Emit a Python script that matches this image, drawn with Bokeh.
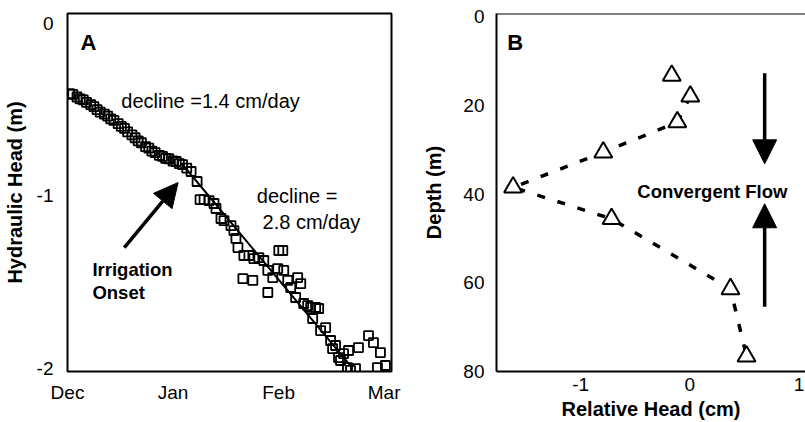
from bokeh.plotting import figure
from bokeh.layouts import row
from bokeh.models import Range1d, FixedTicker, Label, Arrow, NormalHead, Span
from bokeh.embed import file_html
from bokeh.resources import INLINE

FONT = "Liberation Sans"

# ---------------- Panel A data ----------------
month_ticks = [0, 1, 2, 3]
month_labels = ["Dec", "Jan", "Feb", "Mar"]
head_ticks = [0, -1, -2]
head_labels = ["0", "-1", "-2"]

# hydraulic head before irrigation onset (x in months since Dec 1, y in m)
pre_x = [0.02, 0.05, 0.09, 0.12, 0.15, 0.18, 0.22, 0.25, 0.28, 0.31, 0.35, 0.38,
         0.41, 0.44, 0.48, 0.51, 0.54, 0.57, 0.61, 0.64, 0.67, 0.70, 0.74, 0.77,
         0.80, 0.83, 0.87, 0.90, 0.93, 0.96, 1.00, 1.03, 1.06, 1.09, 1.13]
pre_y = [-0.405, -0.410, -0.425, -0.436, -0.442, -0.456, -0.470, -0.481, -0.498, -0.513, -0.525, -0.536,
         -0.552, -0.561, -0.580, -0.596, -0.608, -0.628, -0.645, -0.662, -0.680, -0.691, -0.714, -0.722,
         -0.740, -0.748, -0.764, -0.770, -0.782, -0.784, -0.797, -0.800, -0.812, -0.818, -0.838]

# hydraulic head after irrigation onset
post_x = [1.171, 1.228, 1.256, 1.294, 1.341, 1.388, 1.407, 1.454, 1.483, 1.549, 1.577, 1.596,
          1.615, 1.671, 1.719, 1.766, 1.813, 1.860, 1.898, 1.945, 2.002, 2.040, 1.662, 1.756,
          1.898, 1.992, 2.049, 2.087, 2.115, 2.162, 2.181, 2.210, 2.238, 2.276, 2.304, 2.351,
          2.380, 2.323, 2.398, 2.446, 2.493, 2.512, 2.540, 2.568, 2.587, 2.616, 2.663, 2.653,
          2.682, 2.729, 2.757, 2.852, 2.899, 2.965, 2.937, 3.012]
post_y = [-0.858, -0.916, -1.021, -1.021, -1.027, -1.044, -1.073, -1.131, -1.143, -1.172, -1.201, -1.247,
          -1.300, -1.346, -1.346, -1.364, -1.358, -1.375, -1.433, -1.474, -1.317, -1.317, -1.480, -1.491,
          -1.561, -1.422, -1.433, -1.491, -1.532, -1.590, -1.474, -1.509, -1.625, -1.637, -1.648, -1.648,
          -1.654, -1.712, -1.782, -1.765, -1.840, -1.887, -1.869, -1.939, -1.956, -1.916, -1.898, -1.997,
          -2.014, -2.003, -1.881, -1.811, -1.852, -1.910, -1.997, -1.985]

# fitted decline line after irrigation onset
fit_x = [1.08, 2.70]
fit_y = [-0.81, -2.00]

# ---------------- Panel B data ----------------
rel_head = [-0.165, 0.005, -0.114, -0.792, -1.618, -0.716, 0.373, 0.520]
depth = [13.3, 18.0, 23.8, 30.6, 38.5, 45.6, 61.4, 76.6]
rel_ticks = [-1, 0, 1]
rel_labels = ["-1", "0", "1"]
depth_ticks = [0, 20, 40, 60, 80]


def style_axes(p, tick_size="19px"):
    p.grid.visible = False
    for ax in (p.xaxis[0], p.yaxis[0]):
        ax.major_tick_line_color = None
        ax.minor_tick_line_color = None
        ax.major_label_text_font = FONT
        ax.major_label_text_font_size = tick_size
        ax.major_label_text_color = "black"
        ax.axis_label_text_font = FONT
        ax.axis_label_text_font_size = "20px"
        ax.axis_label_text_font_style = "bold"
        ax.axis_label_text_color = "black"


# ---------------- Panel A ----------------
pA = figure(width=420, height=422, x_range=Range1d(0, 3.07), y_range=Range1d(-2.02, 0.06),
            min_border_left=66, min_border_right=29, min_border_top=13, min_border_bottom=51,
            output_backend="svg", toolbar_location=None, background_fill_color="white",
            border_fill_color="white")
style_axes(pA)
pA.outline_line_color = "black"
pA.outline_line_width = 2
pA.outline_line_alpha = 1.0
pA.xaxis.axis_line_color = None
pA.yaxis.axis_line_color = None
pA.xaxis.ticker = FixedTicker(ticks=month_ticks)
pA.xaxis.major_label_overrides = dict(zip(month_ticks, month_labels))
pA.yaxis.ticker = FixedTicker(ticks=head_ticks)
pA.yaxis.major_label_overrides = dict(zip(head_ticks, head_labels))
pA.xaxis.major_label_standoff = 4
pA.yaxis.major_label_standoff = 8
pA.yaxis.axis_label = "Hydraulic Head (m)"
pA.yaxis.axis_label_standoff = 8

pA.line(fit_x, fit_y, line_color="black", line_width=2)
pA.scatter(pre_x, pre_y, marker="square", size=9, fill_color=None,
           line_color="black", line_width=1.8)
pA.scatter(post_x, post_y, marker="square", size=9, fill_color=None,
           line_color="black", line_width=1.8)

arrowA = [0.538, -1.30, 1.048, -0.922]
pA.add_layout(Arrow(x_start=arrowA[0], y_start=arrowA[1], x_end=arrowA[2], y_end=arrowA[3],
                    line_width=3.5, line_color="black",
                    end=NormalHead(size=24, fill_color="black", line_color="black", line_width=1)))

def addlabel(p, x, y, text, size="18px", style="normal"):
    p.add_layout(Label(x=x, y=y, text=text, text_font=FONT, text_font_size=size,
                       text_font_style=style, text_color="black",
                       text_baseline="alphabetic", text_align="left"))

addlabel(pA, 0.123, -0.108, "A", "22px", "bold")
addlabel(pA, 0.51, -0.451, "decline =1.4 cm/day", "20px")
addlabel(pA, 1.794, -0.998, "decline =", "20px")
addlabel(pA, 1.848, -1.149, "2.8 cm/day", "20px")
addlabel(pA, 0.236, -1.427, "Irrigation", "18.5px", "bold")
addlabel(pA, 0.236, -1.561, "Onset", "18.5px", "bold")

# ---------------- Panel B ----------------
yB = Range1d(80, -0.68)
pB = figure(width=385, height=422, x_range=Range1d(-1.77, 1.06), y_range=yB,
            min_border_left=68, min_border_right=0, min_border_top=13, min_border_bottom=51,
            output_backend="svg", toolbar_location=None, background_fill_color="white",
            border_fill_color="white")
style_axes(pB)
pB.outline_line_color = None
pB.xaxis.axis_line_width = 2
pB.yaxis.axis_line_width = 2
pB.xaxis.axis_line_color = "black"
pB.yaxis.axis_line_color = "black"
pB.xaxis.ticker = FixedTicker(ticks=rel_ticks)
pB.xaxis.major_label_overrides = dict(zip(rel_ticks, rel_labels))
pB.yaxis.ticker = FixedTicker(ticks=depth_ticks)
pB.xaxis.major_label_standoff = 0
pB.yaxis.major_label_standoff = 6
pB.xaxis.axis_label = "Relative Head (cm)"
pB.xaxis.axis_label_standoff = 4
pB.yaxis.axis_label = "Depth (m)"
pB.yaxis.axis_label_standoff = 15
pB.add_layout(Span(location=yB.end, dimension="width", line_color="black", line_width=2))

pB.line(rel_head[1:], depth[1:], line_color="black", line_width=3.5, line_dash="8 13")
pB.scatter(rel_head, depth, marker="triangle", size=18, fill_color="white",
           line_color="black", line_width=2)

arrow_x = 0.686
down_arrow = [12.8, 33.2]
up_arrow = [65.4, 42.2]
for ys in (down_arrow, up_arrow):
    pB.add_layout(Arrow(x_start=arrow_x, y_start=ys[0], x_end=arrow_x, y_end=ys[1],
                        line_width=3.5, line_color="black",
                        end=NormalHead(size=24, fill_color="black", line_color="black", line_width=1)))

addlabel(pB, -1.671, 5.8, "B", "22px", "bold")
addlabel(pB, -0.48, 39.4, "Convergent Flow", "18.5px", "bold")

layout = row(pA, pB)
open("out.html", "w").write(file_html(layout, INLINE))
